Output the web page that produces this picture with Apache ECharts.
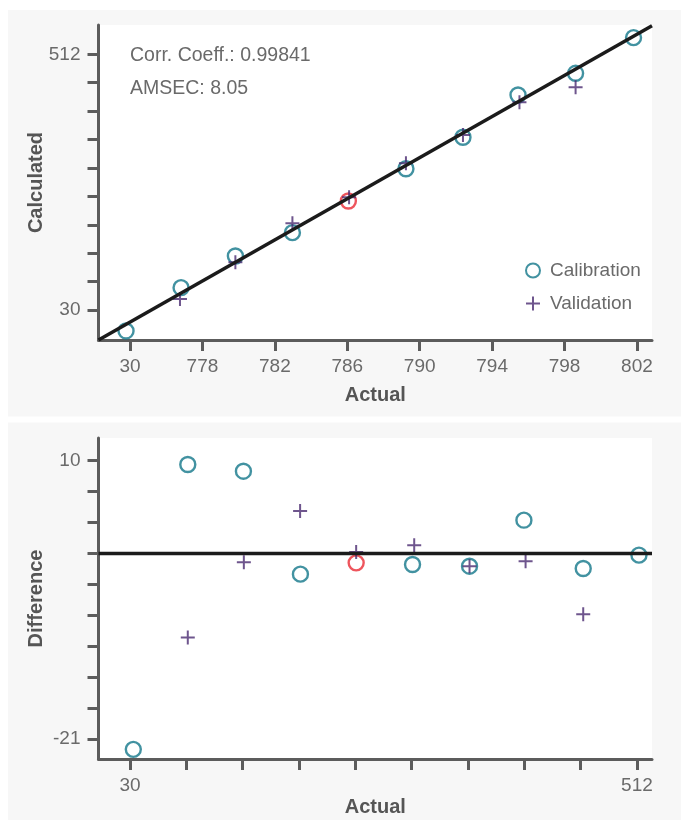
<!DOCTYPE html>
<html lang="en">
  <head>
    <meta charset="UTF-8" />
    <title>Calibration / Validation</title>
    <script src="https://cdn.jsdelivr.net/npm/echarts@6.0.0/dist/echarts.min.js"></script>
    <style>
      body { margin: 0; background: #fff; }
    </style>
  </head>
  <body>
    <div id="main" style="width: 681px; height: 820px"></div>

    <script type="text/javascript">
      // top panel: calculated vs actual
      const xTickValues = [774, 778, 782, 786, 790, 794, 798, 802];
      const xTickLabels = ["30", "778", "782", "786", "790", "794", "798", "802"];
      const yTickValues = [775.18, 777.94, 780.71, 783.47, 786.23, 789.0, 791.76, 794.52, 797.29, 800.05];
      const yTickLabels = ["30", "", "", "", "", "", "", "", "", "512"];

      const calActual = [773.78, 776.82, 779.82, 782.97, 786.06, 789.24, 792.39, 795.43, 798.61, 801.81];
      const calCalculated = [773.14, 777.35, 780.43, 782.7, 785.78, 788.92, 791.98, 796.09, 798.2, 801.67];
      const valActual = [776.76, 779.82, 782.97, 786.1, 789.24, 792.39, 795.51, 798.61];
      const valCalculated = [776.25, 779.82, 783.61, 786.14, 789.45, 792.2, 795.38, 796.84];
      const flaggedIndex = 4; // calibration point drawn in red

      // bottom panel: difference vs actual
      const diffXTickValues = [30, 83.56, 137.11, 190.67, 244.22, 297.78, 351.33, 404.89, 458.44, 512];
      const diffXTickLabels = ["30", "", "", "", "", "", "", "", "", "512"];
      const diffYTickValues = [10, 6.67, 3.33, 0, -3.33, -6.67, -10, -13.33, -16.67, -20];
      const diffYTickLabels = ["10", "", "", "", "", "", "", "", "", "-21"];

      const calDiffActual = [33.1, 84.9, 137.8, 192.0, 245.0, 298.6, 352.8, 404.5, 460.9, 513.9];
      const calDiff = [-21.12, 9.59, 8.87, -2.23, -1.01, -1.19, -1.37, 3.59, -1.62, -0.18];
      const valDiffActual = [84.9, 138.2, 191.7, 245.0, 300.2, 352.8, 406.1, 460.9];
      const valDiff = [-9.05, -0.94, 4.59, 0.17, 0.89, -1.37, -0.83, -6.54];

      const TEAL = "#137789";
      const PURPLE = "#4a2a70";
      const RED = "#ea2b34";
      const AXIS = "#5c5c5c";
      const TEXT = "#6a6a6a";
      const FONT = "'Liberation Sans', Arial, sans-serif";
      const PLUS = "path://M6,0h2v6h6v2h-6v6h-2v-6h-6v-2h6z";

      function labelFrom(values, labels) {
        return (v) => {
          let i = values.findIndex((t) => Math.abs(t - v) < 1e-6);
          return i >= 0 ? labels[i] : "";
        };
      }

      function axis(gridIndex, min, max, ticks, labels, name, nameGap, labelMargin) {
        return {
          type: "value",
          gridIndex: gridIndex,
          min: min,
          max: max,
          name: name,
          nameLocation: "middle",
          nameGap: nameGap,
          nameMoveOverlap: false,
          nameTextStyle: { fontFamily: FONT, fontSize: 20, fontWeight: "bold", color: "#555" },
          axisLine: { show: true, onZero: false, lineStyle: { color: AXIS, width: 3 } },
          axisTick: { show: true, length: 11, customValues: ticks, lineStyle: { color: AXIS, width: 3 } },
          axisLabel: {
            customValues: ticks,
            formatter: labelFrom(ticks, labels),
            margin: labelMargin,
            fontFamily: FONT,
            fontSize: 19,
            color: TEXT,
          },
          splitLine: { show: false },
        };
      }

      let myChart = echarts.init(document.getElementById("main"));

      let calTop = calActual.map((a, i) => {
        let item = { value: [a, calCalculated[i]] };
        if (i === flaggedIndex) item.itemStyle = { borderColor: RED };
        return item;
      });
      let calBottom = calDiffActual.map((a, i) => {
        let item = { value: [a, calDiff[i]] };
        if (i === flaggedIndex) item.itemStyle = { borderColor: RED };
        return item;
      });

      const circleStyle = { color: "rgba(0,0,0,0)", borderColor: TEAL, borderWidth: 2.4 };

      let options = {
        animation: false,
        graphic: [
          { type: "rect", z: -10, shape: { x: 8, y: 10, width: 673, height: 406.5 }, style: { fill: "#f7f7f7" } },
          { type: "rect", z: -10, shape: { x: 8, y: 422.5, width: 673, height: 400 }, style: { fill: "#f7f7f7" } },
          { type: "text", left: 130, top: 46, style: { text: "Corr. Coeff.: 0.99841", fontFamily: FONT, fontSize: 19.5, fill: TEXT } },
          { type: "text", left: 130, top: 79, style: { text: "AMSEC: 8.05", fontFamily: FONT, fontSize: 19.5, fill: TEXT } },
        ],
        legend: {
          data: ["Calibration", "Validation"],
          orient: "vertical",
          left: 520,
          top: 256,
          itemWidth: 14,
          itemHeight: 14,
          itemGap: 14,
          selectedMode: false,
          textStyle: { fontFamily: FONT, fontSize: 19, color: TEXT, padding: [0, 0, 0, 5] },
        },
        grid: [
          { left: 98.5, top: 25, width: 553.5, height: 315, show: true, backgroundColor: "#fff", borderWidth: 0 },
          { left: 98.5, top: 438, width: 553.5, height: 321, show: true, backgroundColor: "#fff", borderWidth: 0 },
        ],
        xAxis: [
          axis(0, 772.26, 802.83, xTickValues, xTickLabels, "Actual", 45, 17),
          axis(1, 0, 526.3, diffXTickValues, diffXTickLabels, "Actual", 38, 17),
        ],
        yAxis: [
          axis(0, 772.26, 802.9, yTickValues, yTickLabels, "Calculated", 52, 18),
          axis(1, -22.16, 12.45, diffYTickValues, diffYTickLabels, "Difference", 52, 18),
        ],
        series: [
          {
            name: "Identity",
            type: "line",
            xAxisIndex: 0,
            yAxisIndex: 0,
            symbol: "none",
            lineStyle: { color: "#1b1b1b", width: 3.5 },
            data: [[772.26, 772.26], [802.83, 802.83]],
          },
          {
            name: "Zero",
            type: "line",
            xAxisIndex: 1,
            yAxisIndex: 1,
            symbol: "none",
            lineStyle: { color: "#1b1b1b", width: 3.5 },
            data: [[0, 0], [526.3, 0]],
          },
          {
            name: "Calibration",
            type: "scatter",
            xAxisIndex: 0,
            yAxisIndex: 0,
            symbol: "circle",
            symbolSize: 15,
            itemStyle: circleStyle,
            data: calTop,
          },
          {
            name: "Validation",
            type: "scatter",
            xAxisIndex: 0,
            yAxisIndex: 0,
            symbol: PLUS,
            symbolSize: 14,
            itemStyle: { color: PURPLE },
            data: valActual.map((a, i) => [a, valCalculated[i]]),
          },
          {
            name: "Calibration",
            type: "scatter",
            xAxisIndex: 1,
            yAxisIndex: 1,
            symbol: "circle",
            symbolSize: 15,
            itemStyle: circleStyle,
            data: calBottom,
          },
          {
            name: "Validation",
            type: "scatter",
            xAxisIndex: 1,
            yAxisIndex: 1,
            symbol: PLUS,
            symbolSize: 14,
            itemStyle: { color: PURPLE },
            data: valDiffActual.map((a, i) => [a, valDiff[i]]),
          },
        ],
      };

      myChart.setOption(options);
    </script>
  </body>
</html>
